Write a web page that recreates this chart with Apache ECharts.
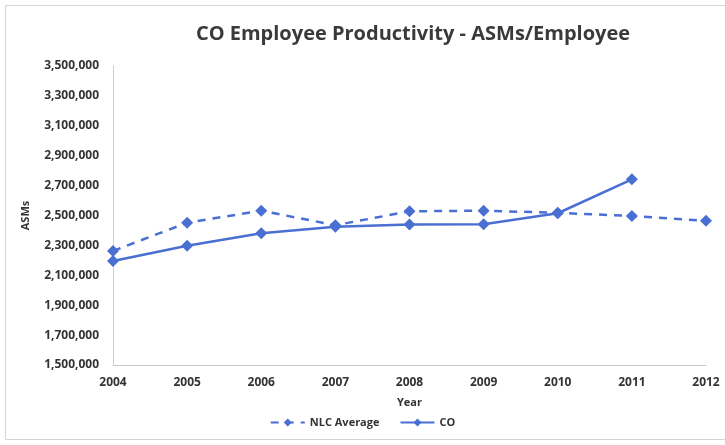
<!DOCTYPE html>
<html>
<head>
<meta charset="utf-8">
<script src="https://cdn.jsdelivr.net/npm/echarts@6/dist/echarts.min.js"></script>
<style>
html,body{margin:0;padding:0;background:#fff;}
#chart{width:725px;height:445px;}
</style>
</head>
<body>
<div id="chart"></div>
<script>
const years = ['2004','2005','2006','2007','2008','2009','2010','2011','2012'];
const nlcAverage = [2263000, 2452000, 2532000, 2435000, 2528000, 2532000, 2518000, 2497000, 2465000];
const co = [2196000, 2298000, 2381000, 2425000, 2440000, 2442000, 2515000, 2742000, null];
const yTicks = [1500000, 3500000, 200000]; // min, max, interval

const FONT = 'Open Sans';
const BLUE = '#4a6fd3';
const chart = echarts.init(document.getElementById('chart'));
chart.setOption({
  backgroundColor: '#fff',
  animation: false,
  graphic: [{
    type: 'rect', shape: {x: 5.5, y: 5.5, width: 740, height: 434},
    style: {fill: 'none', stroke: '#d4d4d4', lineWidth: 1}
  }],
  title: {
    text: 'CO Employee Productivity - ASMs/Employee',
    left: 408, top: 19, textAlign: 'center',
    textStyle: {fontFamily: FONT, fontSize: 20, fontWeight: 'bold', color: '#3a3a3a'}
  },
  legend: {
    bottom: 12, left: 'center', itemGap: 20, itemWidth: 34, itemHeight: 10,
    textStyle: {fontFamily: FONT, fontSize: 11, fontWeight: 'bold', color: '#333'},
    data: ['NLC Average', 'CO']
  },
  grid: {left: 113, right: 19, top: 66, bottom: 80, containLabel: false},
  xAxis: {
    type: 'category', data: years, boundaryGap: false,
    name: 'Year', nameLocation: 'middle', nameGap: 32,
    nameTextStyle: {fontFamily: FONT, fontSize: 11, fontWeight: 'bold', color: '#333'},
    axisLine: {lineStyle: {color: '#c8c8c8'}},
    axisTick: {show: false},
    axisLabel: {fontFamily: FONT, fontSize: 12, fontWeight: 'bold', color: '#333', margin: 12}
  },
  yAxis: {
    type: 'value', min: yTicks[0], max: yTicks[1], interval: yTicks[2],
    name: 'ASMs', nameLocation: 'middle', nameGap: 82, nameRotate: 90,
    nameTextStyle: {fontFamily: FONT, fontSize: 11, fontWeight: 'bold', color: '#333'},
    axisLine: {show: true, lineStyle: {color: '#d8c8d0'}},
    axisTick: {show: false},
    splitLine: {show: false},
    axisLabel: {
      fontFamily: FONT, fontSize: 12, fontWeight: 'bold', color: '#333', margin: 14,
      formatter: v => v.toLocaleString('en-US')
    }
  },
  series: [
    {
      name: 'NLC Average', type: 'line', data: nlcAverage,
      symbol: 'diamond', symbolSize: 12,
      lineStyle: {color: BLUE, width: 2.5, type: [8, 7]},
      itemStyle: {color: BLUE}
    },
    {
      name: 'CO', type: 'line', data: co,
      symbol: 'diamond', symbolSize: 12,
      lineStyle: {color: BLUE, width: 2.5},
      itemStyle: {color: BLUE}
    }
  ]
});
</script>
</body>
</html>
